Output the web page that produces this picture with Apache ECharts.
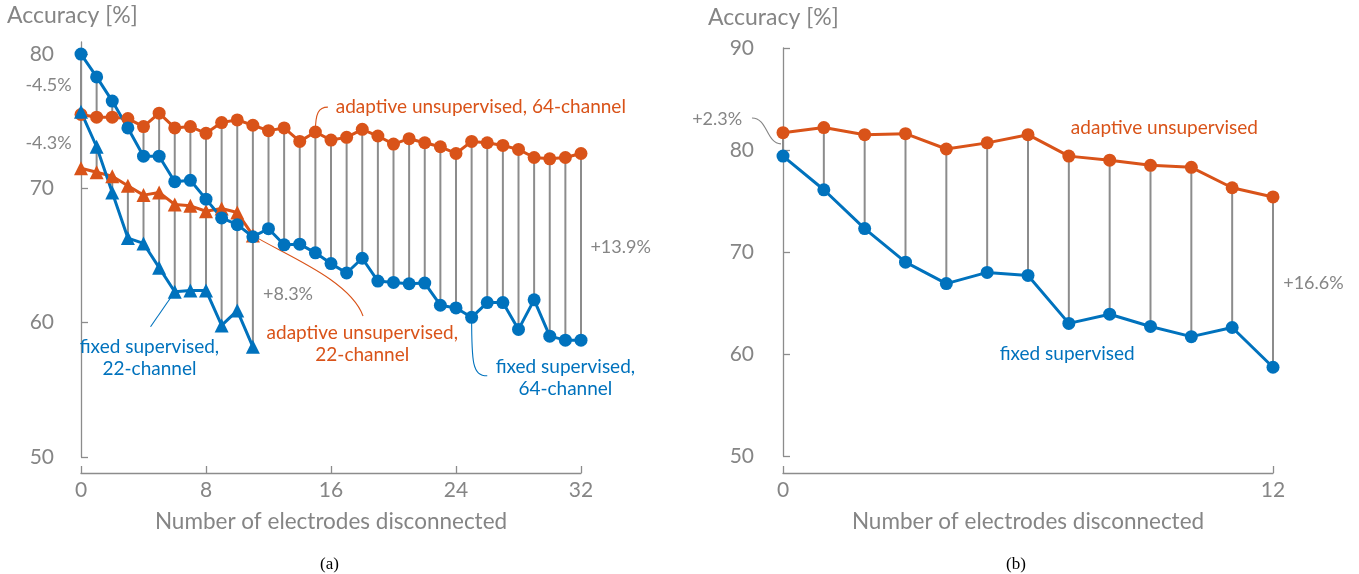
<!DOCTYPE html>
<html>
<head>
<meta charset="utf-8">
<script src="https://cdn.jsdelivr.net/npm/echarts@6/dist/echarts.min.js"></script>
<style>
  html, body { margin: 0; padding: 0; background: #fff; }
  #chart { width: 1359px; height: 574px; }
</style>
</head>
<body>
<div id="chart"></div>
<script>
const BLUE = "#0072bd";
const ORANGE = "#d95319";
const GRID_GRAY = "#8c8c8c";
const TEXT_GRAY = "#858585";
const FONT = "Lato";

// (a) accuracy vs. electrodes disconnected, 0..32
const fixedSup64 = [80.0, 78.3, 76.5, 74.5, 72.4, 72.4, 70.5, 70.6, 69.2, 67.8, 67.3, 66.4, 67.0,
  65.8, 65.85, 65.2, 64.4, 63.7, 64.8, 63.1, 63.0, 62.9, 62.95, 61.3, 61.1, 60.4, 61.5, 61.5,
  59.5, 61.7, 59.0, 58.7, 58.7];
const adaptUnsup64 = [75.5, 75.3, 75.3, 75.2, 74.6, 75.6, 74.5, 74.6, 74.1, 74.9, 75.1, 74.7, 74.3,
  74.5, 73.5, 74.2, 73.6, 73.8, 74.4, 73.9, 73.3, 73.7, 73.4, 73.1, 72.6, 73.5, 73.4, 73.2,
  72.9, 72.3, 72.2, 72.3, 72.6];
const fixedSup22 = [75.7, 73.1, 69.7, 66.3, 65.9, 64.1, 62.3, 62.4, 62.4, 59.8, 60.9, 58.2];
const adaptUnsup22 = [71.5, 71.2, 70.9, 70.2, 69.5, 69.7, 68.8, 68.7, 68.3, 68.5, 68.2, 66.5];

// (b) accuracy vs. electrodes disconnected, 0..12
const adaptUnsupB = [81.7, 82.2, 81.5, 81.6, 80.1, 80.7, 81.5, 79.4, 79.0, 78.5, 78.3, 76.3, 75.4];
const fixedSupB = [79.4, 76.1, 72.3, 69.0, 66.9, 68.0, 67.7, 63.0, 63.9, 62.7, 61.7, 62.6, 58.7];

const xTicksA = [0, 8, 16, 24, 32];
const yTicksA = [50, 60, 70, 80];
const xTicksB = [0, 12];
const yTicksB = [50, 60, 70, 80, 90];

// text annotations, placed in data coordinates
const notesA = [
  { at: [-0.6, 77.7], text: "-4.5%", color: TEXT_GRAY, align: "right", size: 18 },
  { at: [-0.6, 73.4], text: "-4.3%", color: TEXT_GRAY, align: "right", size: 18 },
  { at: [11.65, 62.1], text: "+8.3%", color: TEXT_GRAY, align: "left", size: 18 },
  { at: [32.6, 65.6], text: "+13.9%", color: TEXT_GRAY, align: "left", size: 18 },
  { at: [16.3, 76.06], text: "adaptive unsupervised, 64-channel", color: ORANGE, align: "left", size: 19 },
  { at: [4.38, 57.4], text: "fixed supervised,\n22-channel", color: BLUE, align: "center", size: 19 },
  { at: [18.0, 58.4], text: "adaptive unsupervised,\n22-channel", color: ORANGE, align: "center", size: 19 },
  { at: [31.0, 55.9], text: "fixed supervised,\n64-channel", color: BLUE, align: "center", size: 19 },
];
const notesB = [
  { at: [-1.0, 83.0], text: "+2.3%", color: TEXT_GRAY, align: "right", size: 18 },
  { at: [12.25, 66.96], text: "+16.6%", color: TEXT_GRAY, align: "left", size: 18 },
  { at: [9.34, 82.2], text: "adaptive unsupervised", color: ORANGE, align: "center", size: 19 },
  { at: [6.96, 60.0], text: "fixed supervised", color: BLUE, align: "center", size: 19 },
];

// leader curves: start, control 1, control 2, end (data coordinates)
const leadersA = [
  { pts: [[15, 74.2], [15, 75.6], [15.2, 76.05], [15.8, 76.05]], color: ORANGE },
  { pts: [[6, 62.3], [6, 62.3], [4.45, 59.7], [4.45, 59.7]], color: BLUE },
  { pts: [[11, 66.5], [13.06, 65.04], [17.22, 63.18], [18.05, 60.5]], color: ORANGE },
  { pts: [[25, 60.4], [25, 57.0], [25.05, 56.05], [26.0, 56.05]], color: BLUE },
];
const leadersB = [
  { pts: [[-0.76, 83.14], [-0.37, 83.14], [-0.42, 80.69], [-0.05, 80.6]], color: TEXT_GRAY },
];

function xAxisFor(gridIndex, ticks, offset) {
  return {
    type: "value", gridIndex, offset,
    min: ticks[0], max: ticks[ticks.length - 1], interval: ticks[1] - ticks[0],
    name: "Number of electrodes disconnected", nameLocation: "middle", nameGap: 37,
    nameTextStyle: { color: TEXT_GRAY, fontSize: 22.5, fontFamily: FONT },
    axisLine: { lineStyle: { color: GRID_GRAY, width: 1.3 } },
    axisTick: { inside: true, length: 7, lineStyle: { color: GRID_GRAY, width: 1.3 } },
    axisLabel: { color: TEXT_GRAY, fontSize: 21, fontFamily: FONT, margin: 7 },
    splitLine: { show: false },
  };
}

function yAxisFor(gridIndex, ticks, max, offset) {
  return {
    type: "value", gridIndex, offset,
    min: ticks[0], max,
    axisLine: { show: true, lineStyle: { color: GRID_GRAY, width: 1.3 } },
    axisTick: { show: true, inside: true, length: 7, customValues: ticks,
      lineStyle: { color: GRID_GRAY, width: 1.3 } },
    axisLabel: { color: TEXT_GRAY, fontSize: 21, fontFamily: FONT, margin: 12, customValues: ticks },
    splitLine: { show: false },
  };
}

function lineSeries(axis, values, color, symbol, size) {
  return {
    type: "line", xAxisIndex: axis, yAxisIndex: axis,
    data: values.map((v, i) => [i, v]),
    symbol, symbolSize: size, showAllSymbol: true,
    lineStyle: { color, width: 3 }, itemStyle: { color },
    z: 3,
  };
}

function gapSeries(axis, upper, lower) {
  return {
    type: "custom", xAxisIndex: axis, yAxisIndex: axis, z: 1, silent: true,
    data: upper.map((v, i) => [i, v, lower[i]]),
    renderItem: (params, api) => {
      const a = api.coord([api.value(0), api.value(1)]);
      const b = api.coord([api.value(0), api.value(2)]);
      return {
        type: "line",
        shape: { x1: a[0], y1: a[1], x2: b[0], y2: b[1] },
        style: { stroke: GRID_GRAY, lineWidth: 2 },
      };
    },
  };
}

function noteSeries(axis, notes) {
  return {
    type: "custom", xAxisIndex: axis, yAxisIndex: axis, z: 5, silent: true, clip: false,
    data: notes.map(n => n.at),
    renderItem: (params, api) => {
      const n = notes[params.dataIndex];
      const p = api.coord([api.value(0), api.value(1)]);
      return {
        type: "text", x: p[0], y: p[1],
        style: {
          text: n.text, fill: n.color,
          font: `${n.size}px ${FONT}`, lineHeight: 22,
          align: n.align, verticalAlign: "middle",
          textAlign: n.align, textVerticalAlign: "middle",
        },
      };
    },
  };
}

function leaderSeries(axis, leaders) {
  return {
    type: "custom", xAxisIndex: axis, yAxisIndex: axis, z: 2, silent: true, clip: false,
    data: leaders.map(l => l.pts[3]),
    renderItem: (params, api) => {
      const l = leaders[params.dataIndex];
      const [p0, c1, c2, p3] = l.pts.map(p => api.coord(p));
      return {
        type: "bezierCurve",
        shape: { x1: p0[0], y1: p0[1], cpx1: c1[0], cpy1: c1[1],
                 cpx2: c2[0], cpy2: c2[1], x2: p3[0], y2: p3[1] },
        style: { stroke: l.color, lineWidth: 1.1, fill: null },
      };
    },
  };
}

const chart = echarts.init(document.getElementById("chart"));
chart.setOption({
  animation: false,
  grid: [
    { left: 81, top: 42, width: 500, height: 415 },
    { left: 783, top: 48, width: 490, height: 408 },
  ],
  xAxis: [xAxisFor(0, xTicksA, 16), xAxisFor(1, xTicksB, 17)],
  yAxis: [yAxisFor(0, yTicksA, 80.9, 15), yAxisFor(1, yTicksB, 90, 17)],
  graphic: [
    { type: "text", left: 7, top: 4, style: { text: "Accuracy [%]", fill: TEXT_GRAY, font: `23px ${FONT}` } },
    { type: "text", left: 708, top: 6, style: { text: "Accuracy [%]", fill: TEXT_GRAY, font: `23px ${FONT}` } },
    { type: "text", left: 320, top: 556, style: { text: "(a)", fill: "#000", font: "17px 'Liberation Serif'" } },
    { type: "text", left: 1006, top: 556, style: { text: "(b)", fill: "#000", font: "17px 'Liberation Serif'" } },
  ],
  series: [
    gapSeries(0, fixedSup64, adaptUnsup64),
    gapSeries(0, fixedSup22, adaptUnsup22),
    leaderSeries(0, leadersA),
    lineSeries(0, adaptUnsup64, ORANGE, "circle", 13),
    lineSeries(0, adaptUnsup22, ORANGE, "triangle", 14),
    lineSeries(0, fixedSup64, BLUE, "circle", 13),
    lineSeries(0, fixedSup22, BLUE, "triangle", 14),
    noteSeries(0, notesA),
    gapSeries(1, adaptUnsupB, fixedSupB),
    leaderSeries(1, leadersB),
    lineSeries(1, adaptUnsupB, ORANGE, "circle", 13),
    lineSeries(1, fixedSupB, BLUE, "circle", 13),
    noteSeries(1, notesB),
  ],
});
</script>
</body>
</html>
